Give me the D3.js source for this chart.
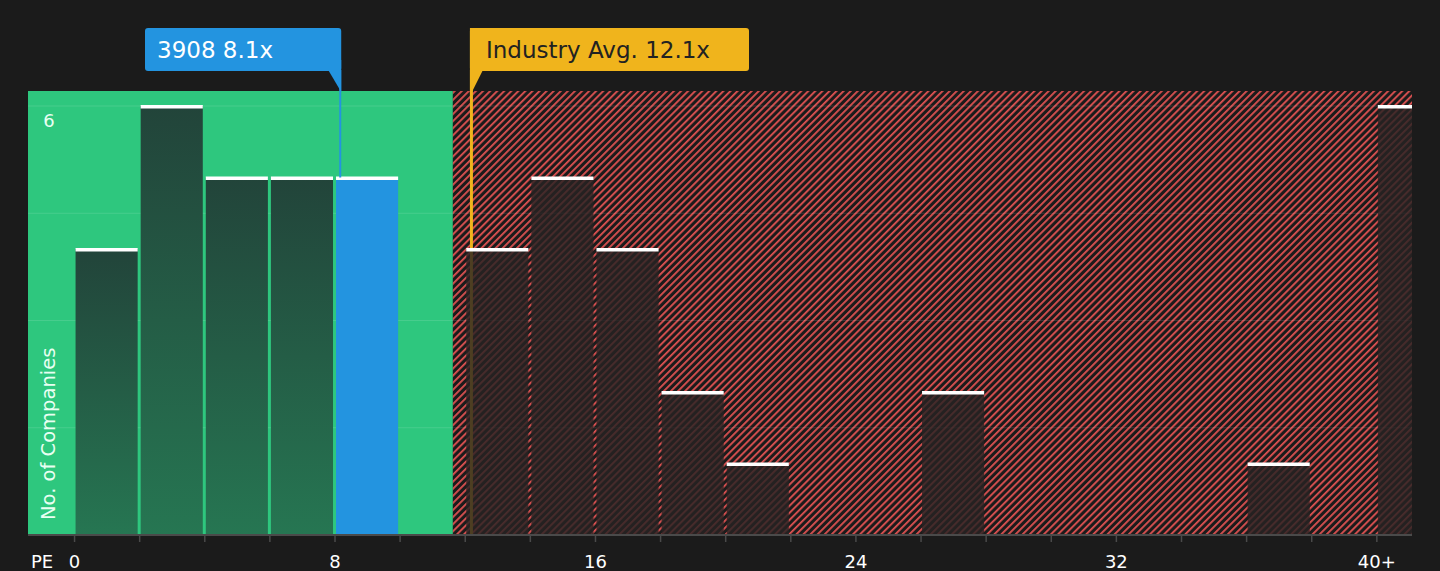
<!DOCTYPE html>
<html lang="en">
<head>
    <meta charset="UTF-8">
    <title>PE distribution</title>
    <script src="https://d3js.org/d3.v7.min.js"></script>
    <style>
        body { margin: 0; background: #1b1b1b; }
        text { font-family: "DejaVu Sans", sans-serif; }
    </style>
</head>
<body>
    <script>
        // Histogram data: PE bins of width 2, last bin is "40+"
        const binStarts = [0, 2, 4, 6, 8, 10, 12, 14, 16, 18, 20, 22, 24, 26, 28, 30, 32, 34, 36, 38, 40];
        const counts    = [4, 6, 5, 5, 5, 0, 4, 5, 4, 2, 1, 0, 0, 2, 0, 0, 0, 0, 1, 0, 6];
        const tickValues = [0, 8, 16, 24, 32, 40];
        const tickLabels = ["0", "8", "16", "24", "32", "40+"];
        const companyPE = 8.16;      // unrounded value behind the "8.1x" label
        const companyLabel = "3908 8.1x";
        const industryPE = 12.19;    // unrounded value behind the "12.1x" label
        const industryLabel = "Industry Avg. 12.1x";
        const fairEnd = 11.62;       // end of the green (below average) zone

        const width = 1440, height = 571;
        const plot = {left: 28, right: 1412, top: 91, bottom: 535};

        const svg = d3.select("body").append("svg")
            .attr("width", width)
            .attr("height", height);

        const x = d3.scaleLinear().domain([-1.43, 41.08]).range([plot.left, plot.right]);
        const y = d3.scaleLinear().domain([0, 6]).range([plot.bottom, 106]);

        const defs = svg.append("defs");
        const hatch = defs.append("pattern")
            .attr("id", "hatch")
            .attr("patternUnits", "userSpaceOnUse")
            .attr("width", 5).attr("height", 5)
            .attr("patternTransform", "rotate(45)");
        hatch.append("rect").attr("width", 5).attr("height", 5).attr("fill", "#1b1b1b");
        hatch.append("rect")
            .attr("x", 0).attr("y", 0).attr("width", 1.8).attr("height", 5)
            .attr("fill", "#e05252");

        const grad = defs.append("linearGradient")
            .attr("id", "greenBar")
            .attr("x1", 0).attr("y1", 0).attr("x2", 0).attr("y2", 1);
        grad.append("stop").attr("offset", "0%").attr("stop-color", "#22443a");
        grad.append("stop").attr("offset", "100%").attr("stop-color", "#267652");

        const clip = defs.append("clipPath").attr("id", "plotClip");
        clip.append("rect")
            .attr("x", plot.left).attr("y", plot.top)
            .attr("width", plot.right - plot.left).attr("height", plot.bottom - plot.top);

        // Zones
        svg.append("rect")
            .attr("x", plot.left).attr("y", plot.top)
            .attr("width", x(fairEnd) - plot.left).attr("height", plot.bottom - plot.top)
            .attr("fill", "#2ec77e");
        svg.append("rect")
            .attr("x", x(fairEnd)).attr("y", plot.top)
            .attr("width", plot.right - x(fairEnd)).attr("height", plot.bottom - plot.top)
            .attr("fill", "url(#hatch)");

        // Gridlines
        svg.append("g").selectAll("line")
            .data([1.5, 3, 4.5, 6])
            .join("line")
            .attr("x1", plot.left).attr("x2", plot.right)
            .attr("y1", d => y(d)).attr("y2", d => y(d))
            .attr("stroke", "rgba(255,255,255,0.12)")
            .attr("stroke-width", 1);

        // Industry average line (under the bars)
        svg.append("line")
            .attr("x1", x(industryPE)).attr("x2", x(industryPE))
            .attr("y1", 28).attr("y2", plot.bottom)
            .attr("stroke", "#f0b41c").attr("stroke-width", 3);

        // Bars
        const bins = binStarts.map((b, i) => ({x0: b, x1: b + 2, n: counts[i]})).filter(d => d.n > 0);
        const bars = svg.append("g").attr("clip-path", "url(#plotClip)");

        bars.selectAll("rect.bar")
            .data(bins)
            .join("rect")
            .attr("class", "bar")
            .attr("x", d => x(d.x0) + 1)
            .attr("y", d => y(d.n))
            .attr("width", d => x(d.x1) - x(d.x0) - 3)
            .attr("height", d => y(0) - y(d.n))
            .attr("fill", d => {
                if (d.x0 <= companyPE && companyPE < d.x1) return "#2394e0";
                if (d.x1 <= fairEnd) return "url(#greenBar)";
                return "rgba(40,35,35,0.82)";
            });

        bars.selectAll("rect.cap")
            .data(bins)
            .join("rect")
            .attr("class", "cap")
            .attr("x", d => x(d.x0) + 1)
            .attr("y", d => y(d.n) - 1)
            .attr("width", d => x(d.x1) - x(d.x0) - 3)
            .attr("height", 3.5)
            .attr("fill", "#ffffff");

        // Company line
        svg.append("line")
            .attr("x1", x(companyPE)).attr("x2", x(companyPE))
            .attr("y1", 60).attr("y2", y(5))
            .attr("stroke", "#2394e0").attr("stroke-width", 2);

        // X axis
        const axis = svg.append("g");
        axis.append("line")
            .attr("x1", plot.left).attr("x2", plot.right)
            .attr("y1", plot.bottom).attr("y2", plot.bottom)
            .attr("stroke", "#4a4a4a").attr("stroke-width", 2);
        axis.selectAll("line.tick")
            .data(d3.range(0, 41, 2))
            .join("line")
            .attr("class", "tick")
            .attr("x1", d => x(d)).attr("x2", d => x(d))
            .attr("y1", plot.bottom).attr("y2", plot.bottom + 7)
            .attr("stroke", "#4a4a4a").attr("stroke-width", 1.5);
        axis.selectAll("text.tl")
            .data(tickValues)
            .join("text")
            .attr("class", "tl")
            .attr("x", d => x(d))
            .attr("y", 568)
            .attr("text-anchor", "middle")
            .attr("fill", "#ffffff")
            .attr("font-size", 18)
            .text((d, i) => tickLabels[i]);
        axis.append("text")
            .attr("x", 31).attr("y", 568)
            .attr("fill", "#ffffff")
            .attr("font-size", 18)
            .text("PE");

        // Y labels
        svg.append("text")
            .attr("x", 49).attr("y", 127)
            .attr("text-anchor", "middle")
            .attr("fill", "#e8fff2")
            .attr("font-size", 18)
            .text("6");
        svg.append("text")
            .attr("transform", "translate(55,520) rotate(-90)")
            .attr("fill", "#e8fff2")
            .attr("font-size", 19.5)
            .text("No. of Companies");

        // Callouts
        const cx = x(companyPE);
        svg.append("rect")
            .attr("x", 145).attr("y", 28)
            .attr("width", cx + 1 - 145).attr("height", 43)
            .attr("rx", 3)
            .attr("fill", "#2394e0");
        svg.append("path")
            .attr("d", `M${cx - 12},70 L${cx + 1},70 L${cx + 1},92 Z`)
            .attr("fill", "#2394e0");
        svg.append("text")
            .attr("x", 157).attr("y", 58)
            .attr("fill", "#ffffff")
            .attr("font-size", 23)
            .text(companyLabel);

        const ix = x(industryPE) - 1.5;
        svg.append("rect")
            .attr("x", ix).attr("y", 28)
            .attr("width", 749 - ix).attr("height", 43)
            .attr("rx", 3)
            .attr("fill", "#f0b41c");
        svg.append("path")
            .attr("d", `M${ix},70 L${ix + 13},70 L${ix},96 Z`)
            .attr("fill", "#f0b41c");
        svg.append("text")
            .attr("x", 486).attr("y", 58)
            .attr("fill", "#222222")
            .attr("font-size", 23)
            .text(industryLabel);
    </script>
</body>
</html>
